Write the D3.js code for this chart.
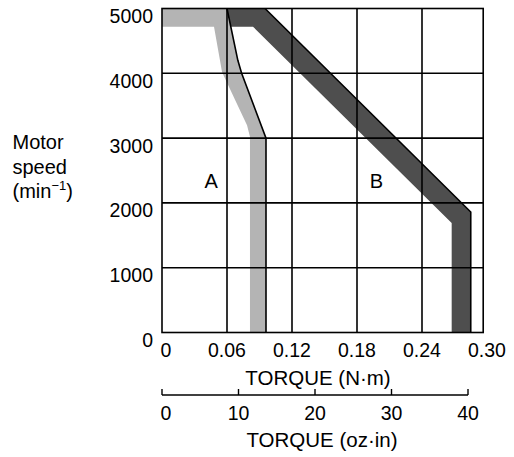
<!DOCTYPE html>
<html>
<head>
<meta charset="utf-8">
<script src="https://cdn.jsdelivr.net/npm/d3@7"></script>
<style>
  html, body { margin: 0; padding: 0; background: #fff; }
  svg { display: block; font-family: "Liberation Sans", Arial, Helvetica, sans-serif; }
</style>
</head>
<body>
<script>
// ---- data ----
const nmTicks = [0, 0.06, 0.12, 0.18, 0.24, 0.30];
const nmLabels = ["0", "0.06", "0.12", "0.18", "0.24", "0.30"];
const speedTicks = [0, 1000, 2000, 3000, 4000, 5000];
const speedLabels = ["0", "1000", "2000", "3000", "4000", "5000"];
const ozTicks = [0, 10, 20, 30, 40];
const ozLabels = ["0", "10", "20", "30", "40"];
const nmPerOzIn = 0.0070616;
const torqueMax = 0.2965;   // right edge of the plotted frame
const speedMax = 5000;

// A: outer (black) edge and inner edge, [torque N·m, speed min-1]
const aOuter = [[0.060, 5000], [0.070, 4200], [0.0735, 4000], [0.096, 3000], [0.096, 0]];
const aInner = [[0, 4720], [0.048, 4720], [0.0535, 4200], [0.0554, 4020], [0.0674, 3590], [0.0785, 3200], [0.0812, 3020], [0.0812, 0]];
// B: outer (black) edge and inner edge
const bOuter = [[0.0951, 5000], [0.285, 1860], [0.285, 0]];
const bInner = [[0.0635, 4720], [0.084, 4720], [0.2674, 1690], [0.2674, 0]];
const regionLabels = [{ t: "A", x: 0.0455, y: 2230 }, { t: "B", x: 0.198, y: 2230 }];

// ---- drawing ----
const W = 514, H = 457;
const svg = d3.select("body").append("svg").attr("width", W).attr("height", H);

const x = d3.scaleLinear().domain([0, 0.30]).range([162, 487]);
const y = d3.scaleLinear().domain([0, 5000]).range([332.5, 8.5]);
const xOz = v => x(v * nmPerOzIn);

const line = d3.line().x(d => x(d[0])).y(d => y(d[1]));

// Band fills
const polyA = [[0, 5000]].concat(aOuter, aInner.slice().reverse());
const polyB = [[0.060, 5000]].concat(bOuter, bInner.slice().reverse());
svg.append("path").attr("d", line(polyA) + "Z").attr("fill", "#b4b4b4");
svg.append("path").attr("d", line(polyB) + "Z").attr("fill", "#4e4e4e");

// Grid lines
const g = svg.append("g").attr("stroke", "#000").attr("stroke-width", 1.6);
g.selectAll("line.v").data(nmTicks.filter(v => v > 0 && v < torqueMax)).enter().append("line")
  .attr("x1", d => x(d)).attr("x2", d => x(d)).attr("y1", y(0)).attr("y2", y(speedMax));
g.selectAll("line.h").data(speedTicks.filter(v => v > 0 && v < speedMax)).enter().append("line")
  .attr("y1", d => y(d)).attr("y2", d => y(d)).attr("x1", x(0)).attr("x2", x(torqueMax));
g.append("rect").attr("x", x(0)).attr("y", y(speedMax))
  .attr("width", x(torqueMax) - x(0)).attr("height", y(0) - y(speedMax)).attr("fill", "none");

// Outer black edges
svg.append("path").attr("d", line(aOuter)).attr("fill", "none").attr("stroke", "#000").attr("stroke-width", 1.6);
svg.append("path").attr("d", line(bOuter)).attr("fill", "none").attr("stroke", "#000").attr("stroke-width", 1.6);

// Region labels
svg.selectAll("text.reg").data(regionLabels).enter().append("text")
  .attr("x", d => x(d.x)).attr("y", d => y(d.y)).attr("text-anchor", "middle")
  .attr("font-size", 20).text(d => d.t);

// Y tick labels
svg.selectAll("text.yt").data(speedTicks).enter().append("text")
  .attr("x", 153).attr("y", d => y(d) + 14.5).attr("text-anchor", "end")
  .attr("font-size", 19.5).text((d, i) => speedLabels[i]);

// X tick labels (N·m)
svg.selectAll("text.xt").data(nmTicks).enter().append("text")
  .attr("x", (d, i) => x(d) + (i === 0 ? 4 : 0)).attr("y", 357).attr("text-anchor", "middle")
  .attr("font-size", 19.5).text((d, i) => nmLabels[i]);

svg.append("text").attr("x", 318).attr("y", 385).attr("text-anchor", "middle")
  .attr("font-size", 20.5).text("TORQUE (N·m)");

// Secondary oz·in axis
const oz = svg.append("g").attr("stroke", "#000").attr("stroke-width", 1.4);
oz.append("line").attr("x1", xOz(0)).attr("x2", xOz(40)).attr("y1", 395).attr("y2", 395);
oz.selectAll("line.t").data(ozTicks).enter().append("line")
  .attr("x1", d => xOz(d)).attr("x2", d => xOz(d)).attr("y1", 395).attr("y2", 389);
svg.selectAll("text.oz").data(ozTicks).enter().append("text")
  .attr("x", (d, i) => xOz(d) + (i === 0 ? 4 : 0)).attr("y", 420).attr("text-anchor", "middle")
  .attr("font-size", 19.5).text((d, i) => ozLabels[i]);
svg.append("text").attr("x", 322).attr("y", 447).attr("text-anchor", "middle")
  .attr("font-size", 20.5).text("TORQUE (oz·in)");

// Y axis title
const yt = svg.append("text").attr("x", 12.5).attr("font-size", 20);
yt.append("tspan").attr("x", 12.5).attr("y", 149).text("Motor");
yt.append("tspan").attr("x", 12.5).attr("y", 173.5).text("speed");
yt.append("tspan").attr("x", 12.5).attr("y", 198).text("(min");
yt.append("tspan").attr("dy", -8).attr("font-size", 13).text("−1");
yt.append("tspan").attr("dy", 8).text(")");
</script>
</body>
</html>
